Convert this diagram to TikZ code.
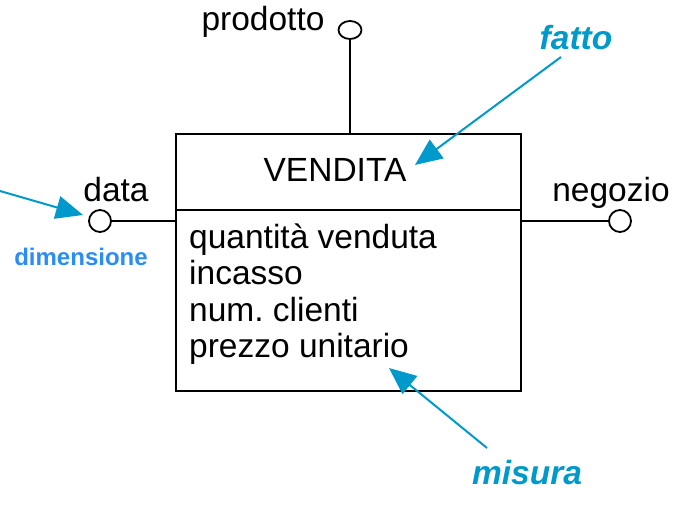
\documentclass[tikz,border=0pt]{standalone}
\usepackage{fontspec}
\setmainfont{Liberation Sans}
\usetikzlibrary{arrows.meta,shapes.geometric}
\definecolor{arrowblue}{HTML}{0099CC}
\definecolor{dimblue}{HTML}{2A8CF5}
\begin{document}
\begin{tikzpicture}[x=1pt,y=-1pt,
  lbl/.style={font=\fontsize{33.5}{36}\selectfont, inner sep=0pt},
  note/.style={font=\fontsize{33.5}{36}\selectfont\bfseries\itshape, text=arrowblue, inner sep=0pt},
  conn/.style={draw, circle, line width=1.8pt, minimum size=22pt, inner sep=0pt},
  ln/.style={line width=2pt},
  callout/.style={draw=arrowblue, line width=2pt, -{Triangle[length=27pt,width=23pt]}, arrowblue}
]
\useasboundingbox (0,0) rectangle (686,510);
% box
\node[draw, line width=2pt, minimum width=345pt, minimum height=257pt, inner sep=0pt] (box) at (348.5,262.5) {};
\coordinate (sepL) at (176,210);
\coordinate (sepR) at (521,210);
\draw[ln] (sepL) -- (sepR);
\node[lbl] (title) at (335,170) {VENDITA};
\node[lbl, anchor=base west] (m1) at (189,249) {quantità venduta};
\node[lbl, anchor=base west] (m2) at (189,285) {incasso};
\node[lbl, anchor=base west] (m3) at (189,322) {num.\ clienti};
\node[lbl, anchor=base west] (m4) at (189,358) {prezzo unitario};
% dimensions
\node[draw, ellipse, line width=1.8pt, minimum width=23pt, minimum height=18pt, inner sep=0pt] (pc) at (350,30) {};
\node[lbl] (plab) at (263,22) {prodotto};
\draw[ln] (pc.south) -- (pc.south |- box.north);
\node[conn] (dc) at (100,221) {};
\node[lbl] (dlab) at (116,190) {data};
\draw[ln] (dc.east) -- (dc.east -| box.west);
\node[conn] (nc) at (620,221) {};
\node[lbl] (nlab) at (611,193) {negozio};
\draw[ln] (nc.west) -- (nc.west -| box.east);
% annotations
\node[note] (fatto) at (576,38) {fatto};
\coordinate (fs) at (561,57);
\coordinate (ft) at (415,165);
\draw[callout] (fs) -- (ft);
\node[note] (misura) at (527,473) {misura};
\coordinate (ms) at (487,448);
\coordinate (mt) at (389,368);
\draw[callout] (ms) -- (mt);
\node[font=\fontsize{24}{26}\selectfont\bfseries, text=dimblue, inner sep=0pt] (dim) at (81,257) {dimensione};
\coordinate (ds) at (0,191);
\coordinate (dt) at (83,215);
\draw[callout] (ds) -- (dt);
\end{tikzpicture}
\end{document}
